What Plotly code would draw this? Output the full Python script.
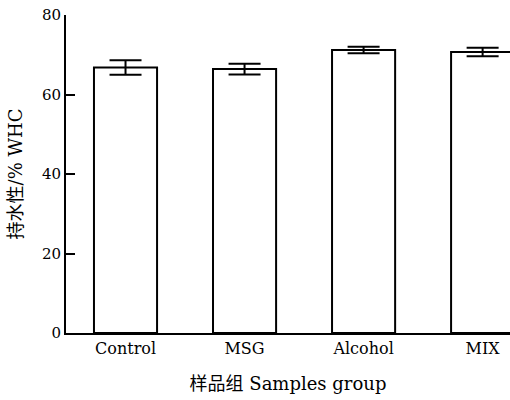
import plotly.graph_objects as go

categories = ["Control", "MSG", "Alcohol", "MIX"]
values = [66.8, 66.4, 71.2, 70.7]
errors = [1.8, 1.35, 0.8, 1.05]
y_ticks = [0, 20, 40, 60, 80]

FONT = "DejaVu Serif, Noto Sans CJK SC, serif"

fig = go.Figure()
fig.add_trace(go.Bar(
    x=list(range(len(categories))),
    y=values,
    width=0.53,
    marker=dict(color="white", line=dict(color="black", width=2)),
    error_y=dict(type="data", array=errors, visible=True, color="black",
                 thickness=2, width=16),
))

fig.update_layout(
    width=510, height=400,
    margin=dict(l=66, r=0, t=15, b=67),
    plot_bgcolor="white", paper_bgcolor="white",
    showlegend=False,
    font=dict(family=FONT, color="black", size=15),
    xaxis=dict(
        range=[-0.5, 3.23],
        automargin=False,
        tickmode="array",
        tickvals=list(range(len(categories))),
        ticktext=categories,
        showline=True, linecolor="black", linewidth=2,
        ticks="", showgrid=False, zeroline=False,
        tickfont=dict(family=FONT, size=16),
        title=dict(text="样品组 Samples group", font=dict(family=FONT, size=18), standoff=20),
    ),
    yaxis=dict(
        range=[0, 80],
        automargin=False,
        tickmode="array", tickvals=y_ticks,
        showline=True, linecolor="black", linewidth=2,
        ticks="inside", ticklen=9, tickwidth=2, tickcolor="black",
        showgrid=False, zeroline=False,
        tickfont=dict(family=FONT, size=15),
        title=dict(text="持水性/% WHC", font=dict(family=FONT, size=18), standoff=15),
    ),
)

fig.write_html("out.html", config={"displayModeBar": False},
               post_script="document.body.style.margin='0';")
